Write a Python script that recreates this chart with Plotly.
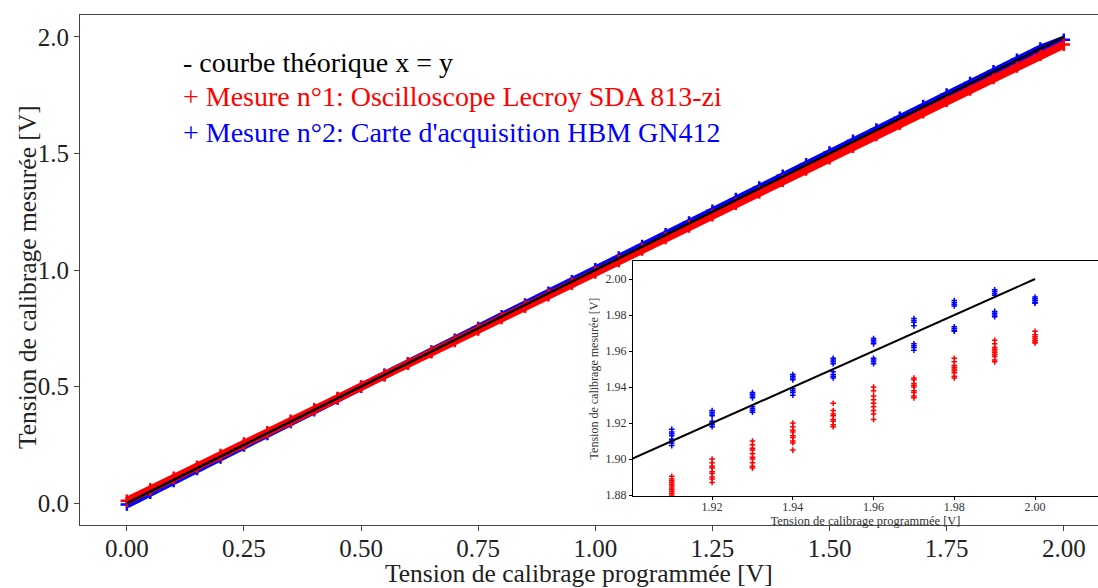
import plotly.graph_objects as go

# ---------------- data ----------------
# Main chart: programmed set-points (V)
setpoints = [0.00, 0.05, 0.10, 0.15, 0.20, 0.25, 0.30, 0.35, 0.40, 0.45,
             0.50, 0.55, 0.60, 0.65, 0.70, 0.75, 0.80, 0.85, 0.90, 0.95,
             1.00, 1.05, 1.10, 1.15, 1.20, 1.25, 1.30, 1.35, 1.40, 1.45,
             1.50, 1.55, 1.60, 1.65, 1.70, 1.75, 1.80, 1.85, 1.90, 1.95, 2.00]
red_dev_mV = [10, 9, 8, 6, 6, 5, 4, 3, 2, 1,
              0, -1, -2, -3, -4, -5, -6, -7, -8, -9,
              -10, -11, -12, -13, -13, -15, -16, -17, -17, -19,
              -20, -21, -21, -22, -23, -24, -25, -26, -27, -26, -33]
blue_dev_mV = [-6, -5, -5, -4, -4, -3, -3, -2, -2, -1,
               -1, 0, 0, 0, 1, 1, 1, 2, 2, 2,
               3, 3, 3, 3, 4, 4, 4, 4, 4, 4,
               4, 4, 3, 3, 3, 3, 2, 2, 2, 0, -12]

theory_x = [0.0, 2.0]
theory_y = [0.0, 2.0]

# Inset: zoom on the last set-points, individual measurements (V)
inset_setpoints = [1.91, 1.92, 1.93, 1.94, 1.95, 1.96, 1.97, 1.98, 1.99, 2.00]
red_inset = [
    [1.8905, 1.889, 1.888, 1.887, 1.886, 1.885, 1.884, 1.883, 1.882, 1.881, 1.880],
    [1.900, 1.898, 1.896, 1.895, 1.893, 1.892, 1.890, 1.889, 1.887],
    [1.910, 1.908, 1.906, 1.905, 1.903, 1.901, 1.900, 1.898, 1.896, 1.895],
    [1.920, 1.918, 1.916, 1.915, 1.913, 1.912, 1.910, 1.909, 1.905],
    [1.931, 1.927, 1.925, 1.924, 1.922, 1.921, 1.919, 1.918],
    [1.940, 1.938, 1.935, 1.933, 1.931, 1.929, 1.927, 1.925, 1.922],
    [1.945, 1.944, 1.942, 1.941, 1.940, 1.938, 1.937, 1.935, 1.934],
    [1.956, 1.954, 1.952, 1.951, 1.950, 1.949, 1.948, 1.946, 1.945],
    [1.966, 1.964, 1.962, 1.961, 1.960, 1.959, 1.958, 1.957, 1.955, 1.954],
    [1.971, 1.969, 1.968, 1.967, 1.966, 1.965, 1.9645],
]
blue_inset = [
    [1.9165, 1.915, 1.914, 1.913, 1.911, 1.910, 1.909, 1.9075],
    [1.927, 1.926, 1.925, 1.924, 1.921, 1.920, 1.919, 1.918],
    [1.937, 1.936, 1.935, 1.934, 1.929, 1.928, 1.927, 1.926],
    [1.947, 1.946, 1.945, 1.944, 1.939, 1.938, 1.937, 1.9355],
    [1.956, 1.955, 1.954, 1.953, 1.9485, 1.947, 1.946, 1.945],
    [1.967, 1.966, 1.965, 1.964, 1.956, 1.955, 1.954, 1.953],
    [1.978, 1.977, 1.976, 1.974, 1.964, 1.963, 1.962, 1.9605],
    [1.988, 1.987, 1.986, 1.985, 1.9735, 1.9725, 1.9715, 1.971],
    [1.994, 1.993, 1.992, 1.991, 1.982, 1.981, 1.980, 1.979],
    [1.990, 1.989, 1.988, 1.987, 1.9865, 1.988],
]

legend_lines = ["- courbe théorique x = y",
                "+ Mesure n°1: Oscilloscope Lecroy SDA 813-zi",
                "+ Mesure n°2: Carte d'acquisition HBM GN412"]
legend_colors = ["black", "#ff0000", "#0000ff"]

main_xticks = [0.00, 0.25, 0.50, 0.75, 1.00, 1.25, 1.50, 1.75, 2.00]
main_yticks = [0.0, 0.5, 1.0, 1.5, 2.0]
inset_xticks = [1.92, 1.94, 1.96, 1.98, 2.00]
inset_yticks = [1.88, 1.90, 1.92, 1.94, 1.96, 1.98, 2.00]

# ---------------- figure ----------------
FONT = "Liberation Serif"
RED = "#ff0000"
BLUE = "#0000ff"

red_y = [x + d / 1000.0 for x, d in zip(setpoints, red_dev_mV)]
blue_y = [x + d / 1000.0 for x, d in zip(setpoints, blue_dev_mV)]

fig = go.Figure()

# main chart
fig.add_trace(go.Scatter(x=setpoints, y=blue_y, mode="lines+markers",
                         line=dict(color=BLUE, width=8),
                         marker=dict(symbol="cross-thin", size=9,
                                     line=dict(color=BLUE, width=2.5)),
                         xaxis="x", yaxis="y", showlegend=False))
fig.add_trace(go.Scatter(x=setpoints, y=red_y, mode="lines+markers",
                         line=dict(color=RED, width=8),
                         marker=dict(symbol="cross-thin", size=9,
                                     line=dict(color=RED, width=2.5)),
                         xaxis="x", yaxis="y", showlegend=False))
fig.add_trace(go.Scatter(x=theory_x, y=theory_y, mode="lines",
                         line=dict(color="black", width=2.5),
                         xaxis="x", yaxis="y", showlegend=False))

# inset
bx, by, rx, ry = [], [], [], []
for sp, vals in zip(inset_setpoints, blue_inset):
    bx += [sp] * len(vals)
    by += vals
for sp, vals in zip(inset_setpoints, red_inset):
    rx += [sp] * len(vals)
    ry += vals

fig.add_trace(go.Scatter(x=bx, y=by, mode="markers",
                         marker=dict(symbol="cross-thin", size=4,
                                     line=dict(color=BLUE, width=1.5)),
                         xaxis="x2", yaxis="y2", showlegend=False))
fig.add_trace(go.Scatter(x=rx, y=ry, mode="markers",
                         marker=dict(symbol="cross-thin", size=4,
                                     line=dict(color=RED, width=1.5)),
                         xaxis="x2", yaxis="y2", showlegend=False))
fig.add_trace(go.Scatter(x=[1.90, 2.00], y=[1.90, 2.00], mode="lines",
                         line=dict(color="black", width=2),
                         xaxis="x2", yaxis="y2", showlegend=False))

PL, PT, PW, PH = 80, 15, 1018, 510

annotations = []
for i, (txt, col) in enumerate(zip(legend_lines, legend_colors)):
    annotations.append(dict(text=txt, xref="paper", yref="paper",
                            x=(181 - PL) / PW,
                            y=(PT + PH - (62 + 35 * i)) / PH,
                            xanchor="left", yanchor="middle", showarrow=False,
                            font=dict(family=FONT, size=28, color=col)))
# main axis titles
annotations.append(dict(text="Tension de calibrage programmée [V]",
                        xref="paper", yref="paper",
                        x=(579 - PL) / PW, y=(PT + PH - 573) / PH,
                        xanchor="center", yanchor="middle", showarrow=False,
                        font=dict(family=FONT, size=25.5, color="#222")))
annotations.append(dict(text="Tension de calibrage mesurée [V]",
                        xref="paper", yref="paper", textangle=-90,
                        x=(27 - PL) / PW, y=(PT + PH - 277) / PH,
                        xanchor="center", yanchor="middle", showarrow=False,
                        font=dict(family=FONT, size=25.5, color="#222")))

fig.update_layout(
    width=1098, height=588,
    margin=dict(l=PL, r=0, t=PT, b=588 - PT - PH),
    paper_bgcolor="white", plot_bgcolor="white",
    font=dict(family=FONT, color="#222"),
    annotations=annotations,
    xaxis=dict(domain=[0, 1], range=[-0.1, 2.073], anchor="y",
               automargin=False,
               tickvals=main_xticks, tickformat=".2f",
               showline=True, linecolor="#444", linewidth=1, mirror=True,
               ticks="outside", ticklen=5, tickcolor="#444",
               ticklabelstandoff=-4,
               showgrid=False, zeroline=False,
               tickfont=dict(family=FONT, size=25, color="#222")),
    yaxis=dict(domain=[0, 1], range=[-0.094, 2.094], anchor="x",
               automargin=False,
               tickvals=main_yticks, tickformat=".1f",
               showline=True, linecolor="#444", linewidth=1, mirror=False,
               ticks="outside", ticklen=5, tickcolor="#444",
               showgrid=False, zeroline=False,
               tickfont=dict(family=FONT, size=25, color="#222")),
    xaxis2=dict(domain=[(633 - PL) / PW, 1.0], range=[1.9004, 2.0156],
                anchor="y2", automargin=False,
                tickvals=inset_xticks, tickformat=".2f",
                showline=True, linecolor="black", linewidth=1.2, mirror=True,
                ticks="outside", ticklen=3, tickcolor="black",
                ticklabelstandoff=-4,
                showgrid=False, zeroline=False,
                tickfont=dict(family=FONT, size=12, color="#333"),
                title=dict(text="Tension de calibrage programmée [V]",
                           font=dict(family=FONT, size=12.5, color="#333"),
                           standoff=0)),
    yaxis2=dict(domain=[(PT + PH - 496) / PH, (PT + PH - 261) / PH],
                range=[1.8795, 2.01], anchor="x2", automargin=False,
                tickvals=inset_yticks, tickformat=".2f",
                showline=True, linecolor="black", linewidth=1.2, mirror=False,
                ticks="outside", ticklen=3, tickcolor="black",
                showgrid=False, zeroline=False,
                tickfont=dict(family=FONT, size=12, color="#333"),
                title=dict(text="Tension de calibrage mesurée [V]",
                           font=dict(family=FONT, size=12, color="#333"),
                           standoff=4)),
)

fig.write_html("out.html",
               config={"displayModeBar": False},
               post_script="document.body.style.margin='0';"
                           "document.body.style.overflow='hidden';")
